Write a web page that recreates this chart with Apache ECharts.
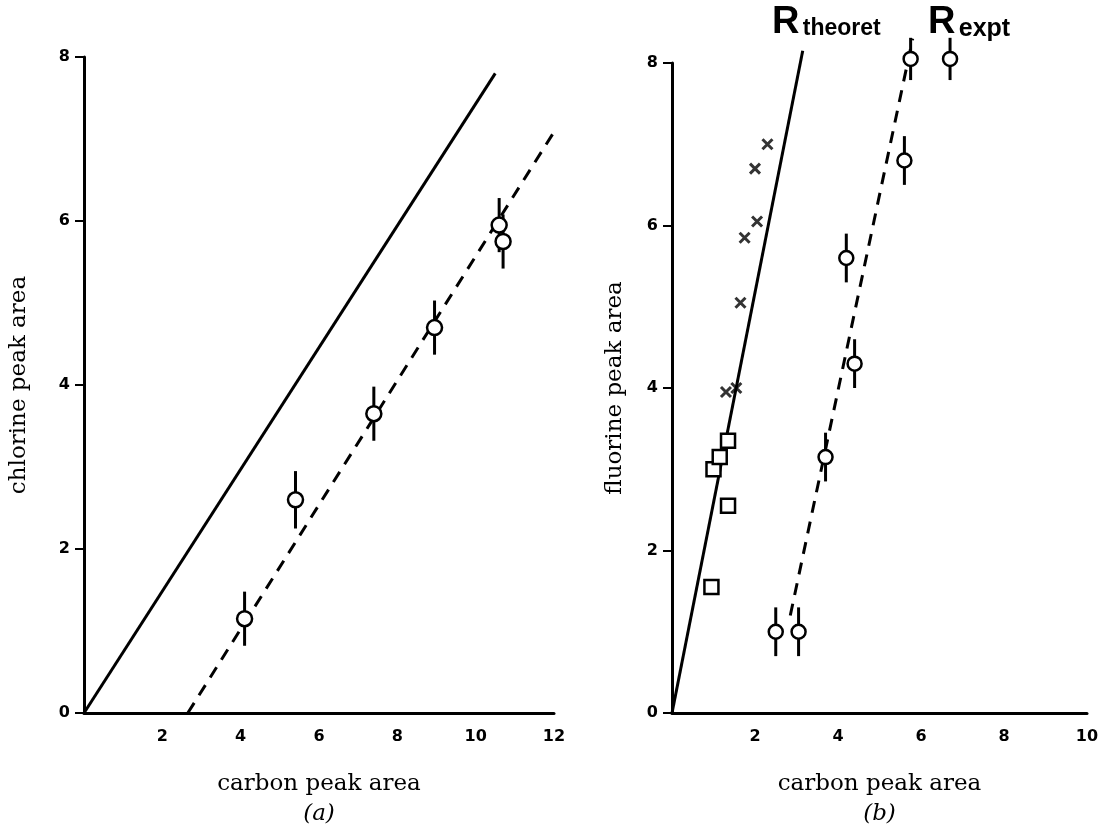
<!DOCTYPE html>
<html>
<head>
<meta charset="utf-8">
<script src="https://cdn.jsdelivr.net/npm/echarts@6/dist/echarts.min.js"></script>
<style>
  html, body { margin: 0; padding: 0; background: #fff; }
  #chart { width: 1103px; height: 834px; }
</style>
</head>
<body>
<div id="chart"></div>
<script>
// panel (a): chlorine vs carbon
const aCarbon = [4.1, 5.4, 7.4, 8.95, 10.6, 10.7];
const aChlorine = [1.15, 2.6, 3.65, 4.7, 5.95, 5.75];
const aErr = [0.33, 0.35, 0.33, 0.33, 0.33, 0.33];
const aTheoretLine = [[0, 0], [10.5, 7.8]];
const aExptLine = [[2.65, 0], [12.15, 7.2]];

// panel (b): fluorine vs carbon
const bExptCarbon = [2.5, 3.05, 3.7, 4.4, 4.2, 5.6, 5.75, 6.7];
const bExptFluorine = [1.0, 1.0, 3.15, 4.3, 5.6, 6.8, 8.05, 8.05];
const bExptErr = [0.3, 0.3, 0.3, 0.3, 0.3, 0.3, 0.26, 0.26];
const bCrossCarbon = [1.3, 1.55, 1.65, 1.75, 2.05, 2.0, 2.3];
const bCrossFluorine = [3.95, 4.0, 5.05, 5.85, 6.05, 6.7, 7.0];
const bSquareCarbon = [0.95, 1.0, 1.15, 1.35, 1.35];
const bSquareFluorine = [1.55, 3.0, 3.15, 3.35, 2.55];
const bTheoretLine = [[0, 0], [3.15, 8.15]];
const bExptLine = [[2.85, 1.2], [5.8, 8.3]];

const aMaxX = 12;
const bMaxX = 10;
const maxY = 8;
const tickStep = 2;

const zip = (xs, ys, es) => xs.map((x, i) => es ? [x, ys[i], es[i]] : [x, ys[i]]);

const chart = echarts.init(document.getElementById('chart'), null, { renderer: 'canvas' });

const tickLabel = {
  fontFamily: 'DejaVu Sans',
  fontWeight: 'bold',
  fontSize: 16,
  color: '#000'
};
const axisLine = { show: true, lineStyle: { color: '#000', width: 3 } };
const nameStyle = {
  fontFamily: 'DejaVu Serif',
  fontSize: 23,
  color: '#000',
  lineHeight: 30,
  rich: {
    i: { fontFamily: 'DejaVu Serif', fontStyle: 'italic', fontSize: 23, lineHeight: 30 }
  }
};

function xAxisFor(idx, max, letter) {
  return {
    type: 'value',
    gridIndex: idx,
    min: 0,
    max,
    interval: tickStep,
    name: 'carbon peak area\n{i|(' + letter + ')}',
    nameLocation: 'middle',
    nameGap: 56,
    nameTextStyle: nameStyle,
    axisLine,
    axisTick: { show: false },
    axisLabel: Object.assign({ showMinLabel: false, margin: 16 }, tickLabel),
    splitLine: { show: false }
  };
}

function yAxisFor(idx, name, gap) {
  return {
    type: 'value',
    gridIndex: idx,
    min: 0,
    max: maxY,
    interval: tickStep,
    name,
    nameLocation: 'middle',
    nameGap: gap,
    nameTextStyle: nameStyle,
    axisLine,
    axisTick: { show: true, length: 9, lineStyle: { color: '#000', width: 2 } },
    axisLabel: Object.assign({ margin: 14 }, tickLabel),
    splitLine: { show: false }
  };
}

function errorBars(idx, data) {
  return {
    type: 'custom',
    xAxisIndex: idx,
    yAxisIndex: idx,
    data,
    clip: false,
    z: 2,
    renderItem: (params, api) => {
      const x = api.value(0);
      const y = api.value(1);
      const e = api.value(2);
      const top = api.coord([x, y + e]);
      const bot = api.coord([x, y - e]);
      return {
        type: 'line',
        shape: { x1: top[0], y1: top[1], x2: bot[0], y2: bot[1] },
        style: { stroke: '#000', lineWidth: 3 }
      };
    }
  };
}

function fitLine(idx, data, dashed) {
  return {
    type: 'line',
    xAxisIndex: idx,
    yAxisIndex: idx,
    data,
    symbol: 'none',
    clip: false,
    z: 1,
    lineStyle: { color: '#000', width: 3, type: dashed ? [12, 9] : 'solid' }
  };
}

function markers(idx, data, symbol, size, width) {
  return {
    type: 'scatter',
    xAxisIndex: idx,
    yAxisIndex: idx,
    data,
    symbol,
    symbolSize: size,
    clip: false,
    z: 3,
    itemStyle: { color: '#fff', borderColor: '#000', borderWidth: width, opacity: 1 }
  };
}

const option = {
  animation: false,
  backgroundColor: '#fff',
  grid: [
    { left: 84, top: 57, width: 470, height: 657 },
    { left: 672, top: 63, width: 415, height: 653 }
  ],
  xAxis: [xAxisFor(0, aMaxX, 'a'), xAxisFor(1, bMaxX, 'b')],
  yAxis: [yAxisFor(0, 'chlorine peak area', 50), yAxisFor(1, 'fluorine peak area', 42)],
  graphic: [
    {
      type: 'text',
      left: 772,
      top: 4,
      style: {
        text: '{r|R} {s|theoret}',
        rich: {
          r: { fontFamily: 'Liberation Sans', fontWeight: 'bold', fontSize: 38, fill: '#000' },
          s: { fontFamily: 'Liberation Sans', fontWeight: 'bold', fontSize: 23, fill: '#000', padding: [12, 0, 0, 0] }
        }
      }
    },
    {
      type: 'text',
      left: 928,
      top: 4,
      style: {
        text: '{r|R} {s|expt}',
        rich: {
          r: { fontFamily: 'Liberation Sans', fontWeight: 'bold', fontSize: 38, fill: '#000' },
          s: { fontFamily: 'Liberation Sans', fontWeight: 'bold', fontSize: 25, fill: '#000', padding: [12, 0, 0, 0] }
        }
      }
    }
  ],
  series: [
    fitLine(0, aTheoretLine, false),
    fitLine(0, aExptLine, true),
    errorBars(0, zip(aCarbon, aChlorine, aErr)),
    markers(0, zip(aCarbon, aChlorine), 'circle', 15, 2.5),

    fitLine(1, bTheoretLine, false),
    fitLine(1, bExptLine, true),
    errorBars(1, zip(bExptCarbon, bExptFluorine, bExptErr)),
    markers(1, zip(bExptCarbon, bExptFluorine), 'circle', 14, 2.5),
    markers(1, zip(bSquareCarbon, bSquareFluorine), 'rect', 14, 2.5),
    {
      type: 'scatter',
      xAxisIndex: 1,
      yAxisIndex: 1,
      data: zip(bCrossCarbon, bCrossFluorine),
      symbol: 'path://M0,0L10,10M10,0L0,10',
      symbolSize: 10,
      clip: false,
      z: 3,
      itemStyle: { color: 'none', borderColor: '#000', borderWidth: 3 }
    }
  ]
};

chart.setOption(option);
window.addEventListener('resize', () => chart.resize());
</script>
</body>
</html>
